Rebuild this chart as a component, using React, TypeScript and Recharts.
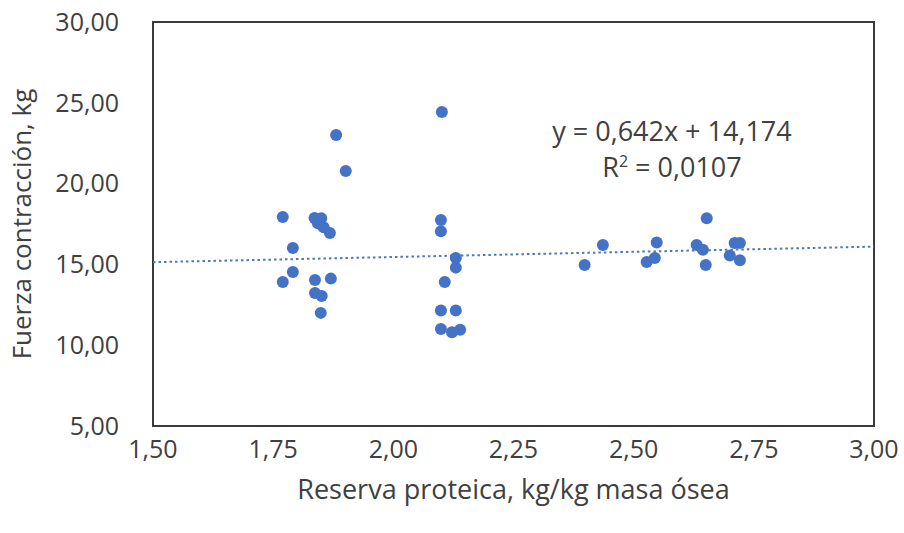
import React from "react";
import {
  ScatterChart,
  Scatter,
  XAxis,
  YAxis,
  ReferenceArea,
  Label,
} from "recharts";

// Reserva proteica (kg/kg masa ósea) vs Fuerza contracción (kg)
const reserva = [
  1.881, 1.901, 1.770, 1.836, 1.850, 1.843, 1.855, 1.868, 1.791, 1.791, 1.770, 1.837, 1.870, 1.837, 1.851, 1.849,
  2.101, 2.099, 2.099, 2.130, 2.130, 2.107, 2.099, 2.130, 2.099, 2.122, 2.139,
  2.398, 2.436, 2.527, 2.544, 2.548, 2.631, 2.644, 2.650, 2.652, 2.710, 2.721, 2.700, 2.721,
];
const fuerza = [
  23.01, 20.78, 17.93, 17.87, 17.85, 17.55, 17.30, 16.94, 16.01, 14.53, 13.91, 14.03, 14.12, 13.23, 13.05, 12.0,
  24.43, 17.75, 17.05, 15.40, 14.80, 13.91, 12.15, 12.15, 11.0, 10.8, 10.95,
  14.96, 16.20, 15.15, 15.40, 16.35, 16.20, 15.90, 14.96, 17.85, 16.32, 16.32, 15.55, 15.25,
];

const xTicks = [1.5, 1.75, 2.0, 2.25, 2.5, 2.75, 3.0];
const yTicks = [5, 10, 15, 20, 25, 30];

// linear trend shown on the chart
const slope = 0.642;
const intercept = 14.174;

const points = reserva.map((x, i) => ({ x, y: fuerza[i] }));
const trend = [1.5, 3.0].map((x) => ({ x, y: slope * x + intercept }));

const FONT = "'Open Sans', sans-serif";
const fmt = (v: number) => v.toFixed(2).replace(".", ",");

const Dot = (p: any) => <circle cx={p.cx} cy={p.cy} r={6} fill="#4472C4" />;

export default function App() {
  return (
    <div style={{ position: "absolute", left: 0, top: 0, width: 904, height: 533, background: "#fff", fontFamily: FONT }}>
      <ScatterChart width={904} height={533} margin={{ top: 22, right: 30, bottom: 0, left: 0 }}>
        <XAxis
          type="number"
          dataKey="x"
          domain={[1.5, 3]}
          ticks={xTicks}
          tickFormatter={fmt}
          axisLine={false}
          tickLine={false}
          tickSize={0}
          tickMargin={14}
          height={107}
          tick={{ fill: "#404040", fontSize: 25, fontFamily: FONT }}
        >
          <Label
            content={({ viewBox }: any) => (
              <text
                x={viewBox.x + viewBox.width / 2}
                y={492}
                textAnchor="middle"
                dominantBaseline="middle"
                fill="#404040"
                fontSize={27}
                fontFamily={FONT}
              >
                Reserva proteica, kg/kg masa ósea
              </text>
            )}
          />
        </XAxis>
        <YAxis
          type="number"
          dataKey="y"
          domain={[5, 30]}
          ticks={yTicks}
          tickFormatter={fmt}
          axisLine={false}
          tickLine={false}
          tickSize={0}
          tickMargin={34}
          width={153}
          tick={{ fill: "#404040", fontSize: 25, fontFamily: FONT }}
        >
          <Label
            content={({ viewBox }: any) => {
              const cx = 24;
              const cy = viewBox.y + viewBox.height / 2;
              return (
                <text
                  x={cx}
                  y={cy}
                  transform={`rotate(-90 ${cx} ${cy})`}
                  textAnchor="middle"
                  dominantBaseline="middle"
                  fill="#404040"
                  fontSize={26}
                  fontFamily={FONT}
                >
                  Fuerza contracción, kg
                </text>
              );
            }}
          />
        </YAxis>
        <ReferenceArea
          x1={1.5}
          x2={3}
          y1={5}
          y2={30}
          fill="none"
          stroke="#3a3a3a"
          strokeWidth={2}
          ifOverflow="visible"
        />
        <Scatter
          data={trend}
          line={{ stroke: "#4a78b8", strokeWidth: 2, strokeDasharray: "2.5 3" }}
          shape={() => null}
          isAnimationActive={false}
        />
        <Scatter data={points} shape={Dot} isAnimationActive={false} />
      </ScatterChart>
      <div
        style={{
          position: "absolute",
          left: 672,
          top: 130,
          transform: "translate(-50%, -50%)",
          fontSize: 27,
          color: "#404040",
          whiteSpace: "nowrap",
          lineHeight: 1,
        }}
      >
        y = 0,642x + 14,174
      </div>
      <div
        style={{
          position: "absolute",
          left: 672,
          top: 166,
          transform: "translate(-50%, -50%)",
          fontSize: 27,
          color: "#404040",
          whiteSpace: "nowrap",
          lineHeight: 1,
        }}
      >
        R<sup style={{ fontSize: 16 }}>2</sup> = 0,0107
      </div>
    </div>
  );
}
